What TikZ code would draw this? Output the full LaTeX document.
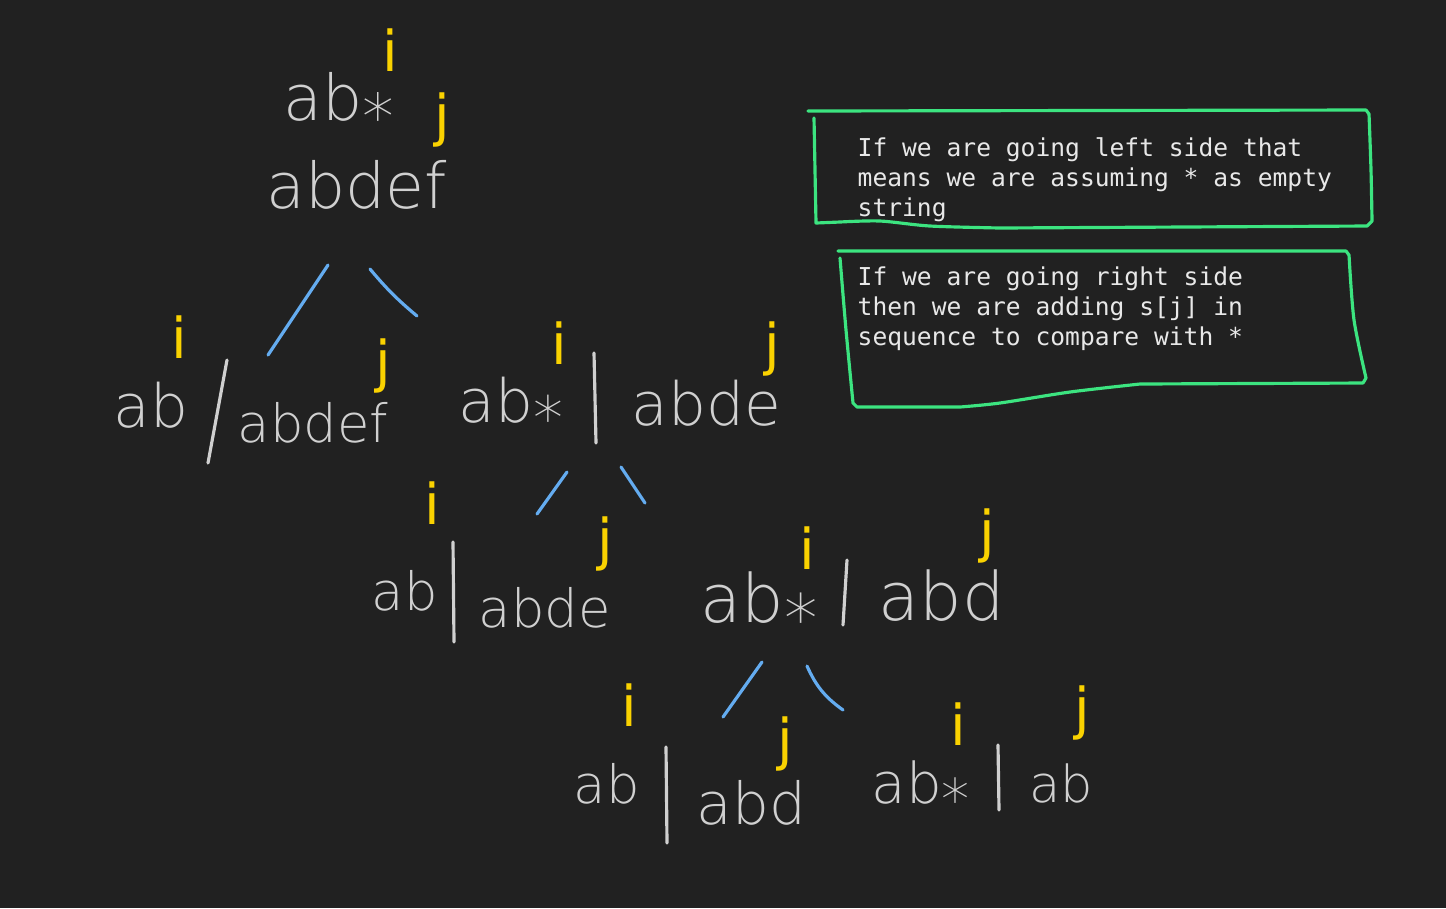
\documentclass[tikz,border=0pt]{standalone}
\usepackage{fontspec}
\setmonofont{DejaVu Sans Mono}
\newfontfamily\handfont{DejaVu Sans ExtraLight}
\newfontfamily\markfont{DejaVu Sans}
\definecolor{board}{RGB}{33,33,33}
\definecolor{chalk}{RGB}{208,208,208}
\definecolor{marker}{RGB}{250,210,0}
\definecolor{branchblue}{RGB}{100,172,240}
\definecolor{boxgreen}{RGB}{60,228,128}
\definecolor{notetext}{RGB}{232,232,232}
\newcommand{\wild}{\raisebox{-0.3em}{*}}

\begin{document}
\begin{tikzpicture}[x=0.01cm, y=-0.01cm,
	hand/.style={text=chalk, font=\handfont\fontsize{#1}{#1}\selectfont, inner sep=0pt, anchor=base west},
	hand/.default=17,
	ptr/.style={text=marker, font=\markfont\fontsize{16}{16}\selectfont, inner sep=0pt},
	sep/.style={draw=chalk, line width=0.9pt, line cap=round},
	branch/.style={color=branchblue, line width=0.9pt, line cap=round},
	notebox/.style={draw=boxgreen, line width=0.9pt, line join=round, line cap=round},
	note/.style={text=notetext, font=\ttfamily\fontsize{7}{8.54}\selectfont, align=left, inner sep=0pt, anchor=north west}]

		\fill[board] (0,0) rectangle (1446,908);
		\useasboundingbox (0,0) rectangle (1446,908);

		% root
		\node[hand=18] (p0) at (283,120) {ab\wild};
		\node[hand=18] (s0) at (266,208) {abdef};
		\node[ptr] (i0) at (390,50) {i};
		\node[ptr] (j0) at (442,120) {j};

		% first level, left
		\node[hand] (p1) at (113,427) {ab};
		\node[hand=15] (s1) at (237,442) {abdef};
		\node[ptr] (i1) at (179,337) {i};
		\node[ptr] (j1) at (383,366) {j};
		\draw[sep] (227,360) -- (208,463);

		% first level, right
		\node[hand] (p2) at (458,422) {ab\wild};
		\node[hand] (s2) at (631,425) {abde};
		\node[ptr] (i2) at (559,343) {i};
		\node[ptr] (j2) at (772,349) {j};
		\draw[sep] (594,353) -- (596,443);

		% second level
		\node[hand=15] (p3) at (371,610) {ab};
		\node[hand=15] (s3) at (478,627) {abde};
		\node[ptr] (i3) at (432,503) {i};
		\node[ptr] (j3) at (605,544) {j};
		\draw[sep] (453,542) -- (454,642);

		\node[hand=19] (p4) at (700,622) {ab\wild};
		\node[hand=19] (s4) at (878,620) {abd};
		\node[ptr] (i4) at (807,548) {i};
		\node[ptr] (j4) at (987,536) {j};
		\draw[sep] (847,560) -- (843,625);

		% third level
		\node[hand=15] (p5) at (573,803) {ab};
		\node[hand=16.5] (s5) at (696,824) {abd};
		\node[ptr] (i5) at (629,705) {i};
		\node[ptr] (j5) at (785,744) {j};
		\draw[sep] (666,747) -- (667,843);

		\node[hand=16] (p6) at (871,803) {ab\wild};
		\node[hand=14.5] (s6) at (1029,802) {ab};
		\node[ptr] (i6) at (958,724) {i};
		\node[ptr] (j6) at (1082,713) {j};
		\draw[sep] (998,745) -- (999,810);

		% branch ends
		\coordinate (r0a) at (328,265);
		\coordinate (r0b) at (268,355);
		\coordinate (r0c) at (370,269);
		\coordinate (r0d) at (417,316);
		\coordinate (r2a) at (567,472);
		\coordinate (r2b) at (537,514);
		\coordinate (r2c) at (621,467);
		\coordinate (r2d) at (645,503);
		\coordinate (r4a) at (762,662);
		\coordinate (r4b) at (723,717);
		\coordinate (r4c) at (807,666);
		\coordinate (r4d) at (843,710);

		% branches
		\path[branch] (r0a) edge (r0b);
		\path[branch] (r0c) edge[bend right=5] (r0d);
		\path[branch] (r2a) edge (r2b);
		\path[branch] (r2c) edge (r2d);
		\path[branch] (r4a) edge (r4b);
		\path[branch] (r4c) edge[bend right=15] (r4d);

		% notes
		\node[note] (n1) at (857,137) {If we are going left side that\\means we are assuming * as empty\\string};
		\node[note] (n2) at (857,266) {If we are going right side\\then we are adding s[j] in\\sequence to compare with *};

		\draw[notebox] (808,111) -- (1366,110) -- (1369,114)
			-- plot[smooth] coordinates {(1369,114) (1371,170) (1372,221)}
			-- (1367,226) -- (1000,228)
			-- plot[smooth] coordinates {(1000,228) (930,226) (880,221) (840,222)}
			-- (816,223) -- (814,118);
		\draw[notebox] (838,251) -- (1346,251) -- (1349,255)
			-- plot[smooth] coordinates {(1349,255) (1354,320) (1366,378)}
			-- (1363,383) -- (1140,384)
			-- plot[smooth] coordinates {(1140,384) (1070,392) (1000,403) (960,407)}
			-- (857,407) -- (853,403)
			-- plot[smooth] coordinates {(853,403) (846,330) (840,258)};
\end{tikzpicture}
\end{document}
